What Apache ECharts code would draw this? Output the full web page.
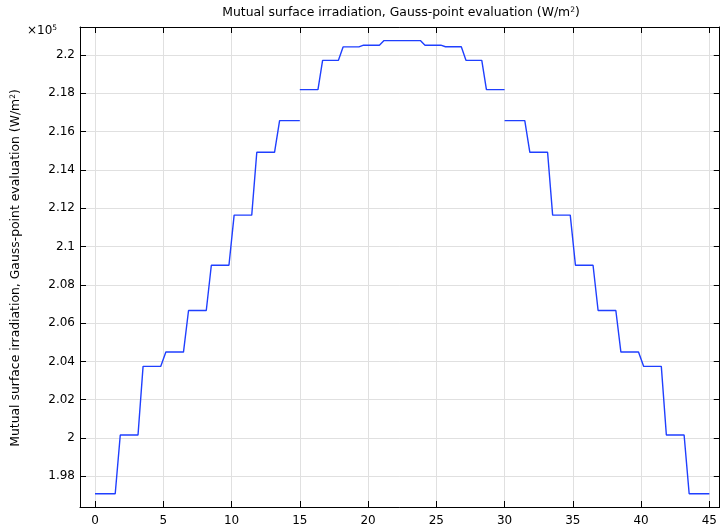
<!DOCTYPE html>
<html>
<head>
<meta charset="utf-8">
<script src="https://cdn.jsdelivr.net/npm/echarts@6/dist/echarts.min.js"></script>
<style>html,body{margin:0;padding:0;background:#fff;}#c{width:720px;height:529px;}</style>
</head>
<body>
<div id="c"></div>
<script>
// Data (values in units of 1e5 W/m^2)
const seg1X = [0, 1.48, 1.85, 3.15, 3.52, 4.81, 5.19, 6.48, 6.85, 8.15, 8.52, 9.81, 10.19, 11.48, 11.85, 13.15, 13.52, 15];
const seg1Y = [1.9709, 1.9709, 2.0016, 2.0016, 2.0374, 2.0374, 2.0449, 2.0449, 2.0666, 2.0666, 2.0902, 2.0902, 2.1164, 2.1164, 2.1492, 2.1492, 2.1657, 2.1657];
const seg2X = [15, 16.33, 16.67, 17.83, 18.17, 19.33, 19.67, 20.83, 21.17, 22.33, 22.67, 23.83, 24.17, 25.33, 25.67, 26.83, 27.17, 28.33, 28.67, 30];
const seg2Y = [2.1819, 2.1819, 2.1972, 2.1972, 2.2042, 2.2042, 2.2051, 2.2051, 2.2075, 2.2075, 2.2075, 2.2075, 2.2051, 2.2051, 2.2043, 2.2043, 2.1972, 2.1972, 2.1819, 2.1819];
const seg3X = [30, 31.48, 31.85, 33.15, 33.52, 34.81, 35.19, 36.48, 36.85, 38.15, 38.52, 39.81, 40.19, 41.48, 41.85, 43.15, 43.52, 45];
const seg3Y = [2.1657, 2.1657, 2.1492, 2.1492, 2.1164, 2.1164, 2.0902, 2.0902, 2.0666, 2.0666, 2.0449, 2.0449, 2.0374, 2.0374, 2.0016, 2.0016, 1.9709, 1.9709];
const xTicks = [0, 5, 10, 15, 20, 25, 30, 35, 40, 45];
const yTicks = [1.98, 2, 2.02, 2.04, 2.06, 2.08, 2.1, 2.12, 2.14, 2.16, 2.18, 2.2];
const titleText = 'Mutual surface irradiation, Gauss-point evaluation (W/m{sup|2})';

function zip(xs, ys) { return xs.map((x, i) => [x, ys[i]]); }

const FONT = 'DejaVu Sans';
const chart = echarts.init(document.getElementById('c'), null, {renderer: 'canvas'});
const lineColor = '#1f3fff';
const xMin = -1.1, xMax = 45.76, yMin = 1.964, yMax = 2.2146;

function lineSeries(xs, ys) {
  return {
    type: 'line', data: zip(xs, ys), showSymbol: false, symbol: 'none',
    lineStyle: {color: lineColor, width: 1.4}, animation: false, xAxisIndex: 0, yAxisIndex: 0
  };
}

const supStyle = {fontSize: 7.5, verticalAlign: 'top', padding: [0, 0, 6, 0], fontFamily: FONT};

chart.setOption({
  animation: false,
  textStyle: {fontFamily: FONT},
  grid: {left: 80, right: -1, top: 27, bottom: 22},
  xAxis: [{
    type: 'value', min: xMin, max: xMax, position: 'bottom',
    axisLine: {show: true, onZero: false, lineStyle: {color: '#000', width: 1}},
    axisTick: {show: true, inside: true, length: 6, customValues: xTicks, lineStyle: {color: '#000'}},
    axisLabel: {customValues: xTicks, color: '#000', fontSize: 12, fontFamily: FONT, margin: 8},
    splitLine: {show: true, lineStyle: {color: '#e0e0e0', width: 1}}
  }, {
    type: 'value', min: xMin, max: xMax, position: 'top',
    axisLine: {show: true, onZero: false, lineStyle: {color: '#000', width: 1}},
    axisTick: {show: true, inside: true, length: 6, customValues: xTicks, lineStyle: {color: '#000'}},
    axisLabel: {show: false},
    splitLine: {show: false}
  }],
  yAxis: [{
    type: 'value', min: yMin, max: yMax, position: 'left',
    axisLine: {show: true, onZero: false, lineStyle: {color: '#000', width: 1}},
    axisTick: {show: true, inside: true, length: 6, customValues: yTicks, lineStyle: {color: '#000'}},
    axisLabel: {customValues: yTicks, color: '#000', fontSize: 12, fontFamily: FONT, margin: 5},
    splitLine: {show: true, lineStyle: {color: '#e0e0e0', width: 1}}
  }, {
    type: 'value', min: yMin, max: yMax, position: 'right',
    axisLine: {show: true, onZero: false, lineStyle: {color: '#000', width: 1}},
    axisTick: {show: true, inside: true, length: 6, customValues: yTicks, lineStyle: {color: '#000'}},
    axisLabel: {show: false},
    splitLine: {show: false}
  }],
  series: [lineSeries(seg1X, seg1Y), lineSeries(seg2X, seg2Y), lineSeries(seg3X, seg3Y)],
  graphic: [{
    type: 'text', x: 401, y: 13,
    style: {
      text: titleText, textAlign: 'center', textVerticalAlign: 'middle',
      font: '12.4px "DejaVu Sans"', fill: '#000', rich: {sup: supStyle}
    }
  }, {
    type: 'text', x: 16, y: 268, rotation: Math.PI / 2,
    style: {
      text: titleText, textAlign: 'center', textVerticalAlign: 'middle',
      font: '12.4px "DejaVu Sans"', fill: '#000', rich: {sup: supStyle}
    }
  }, {
    type: 'text', x: 27, y: 31,
    style: {
      text: '×10{sup|5}', textAlign: 'left', textVerticalAlign: 'middle',
      font: '12px "DejaVu Sans"', fill: '#000', rich: {sup: supStyle}
    }
  }]
});
</script>
</body>
</html>
